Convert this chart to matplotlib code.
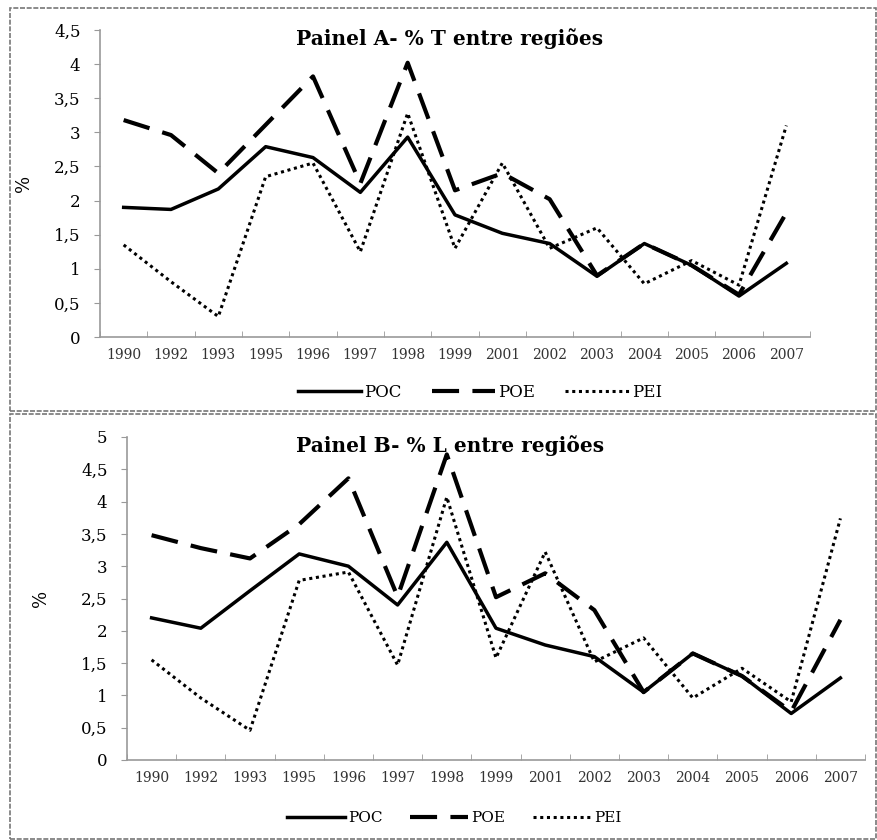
import matplotlib
matplotlib.use("Agg")
import matplotlib.pyplot as plt
from matplotlib.patches import Rectangle
from matplotlib.ticker import FixedLocator

plt.rcParams["font.family"] = ["DejaVu Serif"]

anos = ["1990", "1992", "1993", "1995", "1996", "1997", "1998", "1999",
        "2001", "2002", "2003", "2004", "2005", "2006", "2007"]

# Painel A - % T entre regioes
poc_a = [1.90, 1.87, 2.17, 2.79, 2.63, 2.12, 2.93, 1.79, 1.52, 1.37, 0.89, 1.37, 1.05, 0.60, 1.08]
poe_a = [3.18, 2.96, 2.40, 3.11, 3.82, 2.25, 4.02, 2.15, 2.40, 2.02, 0.90, 1.37, 1.05, 0.62, 1.82]
pei_a = [1.35, 0.81, 0.30, 2.35, 2.55, 1.25, 3.28, 1.30, 2.55, 1.30, 1.60, 0.78, 1.12, 0.76, 3.10]

# Painel B - % L entre regioes
poc_b = [2.20, 2.04, 2.62, 3.19, 3.00, 2.40, 3.37, 2.04, 1.78, 1.60, 1.05, 1.65, 1.30, 0.72, 1.27]
poe_b = [3.48, 3.28, 3.12, 3.65, 4.36, 2.53, 4.73, 2.52, 2.89, 2.32, 1.05, 1.65, 1.30, 0.75, 2.17]
pei_b = [1.55, 0.96, 0.46, 2.78, 2.91, 1.47, 4.07, 1.58, 3.22, 1.52, 1.89, 0.96, 1.42, 0.90, 3.74]

W, H = 877, 840
fig = plt.figure(figsize=(W / 100, H / 100), dpi=100)
fig.patch.set_facecolor("white")

# molduras tracejadas
for (x0, y0, x1, y1) in [(10, 8, 876, 411), (10, 414, 876, 839)]:
    fig.add_artist(Rectangle((x0 / W, 1 - y1 / H), (x1 - x0) / W, (y1 - y0) / H,
                             transform=fig.transFigure, fill=False,
                             edgecolor="#777777", linestyle=(0, (3, 1)), linewidth=1.2))


def painel(rect, poc, poe, pei, ymax, titulo, tit_x, leg_x, leg_y, leg_font):
    ax = fig.add_axes(rect)
    x = range(len(anos))
    ax.plot(x, poc, color="black", linewidth=2.5, label="POC")
    ax.plot(x, poe, color="black", linewidth=3.0, linestyle=(0, (6.5, 3.2)), label="POE")
    ax.plot(x, pei, color="black", linewidth=2.2, linestyle=(0, (1, 1.2)), label="PEI")

    ax.set_xlim(-0.5, len(anos) - 0.5)
    ax.set_ylim(0, ymax)
    ticks = [i * 0.5 for i in range(int(ymax / 0.5) + 1)]
    ax.set_yticks(ticks)
    ax.set_yticklabels([("%g" % t).replace(".", ",") for t in ticks], fontsize=12)
    ax.set_xticks(list(x))
    ax.set_xticklabels(anos, fontsize=10, color="#333333")
    ax.xaxis.set_minor_locator(FixedLocator([i - 0.5 for i in range(len(anos) + 1)]))
    ax.tick_params(axis="x", which="major", length=0, pad=8)
    ax.tick_params(axis="x", which="minor", length=4, color="#999999", direction="in")
    ax.tick_params(axis="y", length=4, color="#999999", pad=10)
    for s in ["top", "right"]:
        ax.spines[s].set_visible(False)
    for s in ["left", "bottom"]:
        ax.spines[s].set_color("#999999")
        ax.spines[s].set_linewidth(1.2)
    ax.set_ylabel("%", fontsize=13)
    ax.text(tit_x, 1.005, titulo, transform=ax.transAxes, ha="center", va="top",
            fontsize=14.5, fontweight="bold")
    ax.legend(loc="center", bbox_to_anchor=(leg_x, leg_y), ncol=3, frameon=False,
              fontsize=leg_font, handlelength=3.8, handletextpad=0.2, columnspacing=1.8)
    return ax


ax1 = painel([100 / W, 1 - 337 / H, 710 / W, 307 / H], poc_a, poe_a, pei_a, 4.5,
             "Painel A- % T entre regiões", 0.493, 0.535, -0.18, 12)
ax1.yaxis.set_label_coords(-0.094, 0.5)
ax2 = painel([127 / W, 1 - 760 / H, 738 / W, 323 / H], poc_b, poe_b, pei_b, 5,
             "Painel B- % L entre regiões", 0.438, 0.443, -0.18, 11)
ax2.yaxis.set_label_coords(-0.104, 0.5)

fig.savefig("out.png", dpi=100, facecolor="white")
